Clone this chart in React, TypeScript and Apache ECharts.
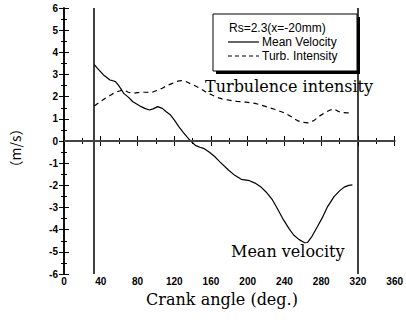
import React, { useEffect, useRef } from "react";
import * as echarts from "echarts";

const xTicks = [0, 40, 80, 120, 160, 200, 240, 280, 320, 360];
const yTicks = [-6, -5, -4, -3, -2, -1, 0, 1, 2, 3, 4, 5, 6];

const meanVelocity: [number, number][] = [
  [33, 3.45], [36, 3.3], [40, 3.12], [43, 2.98], [47, 2.85], [50, 2.75], [53, 2.72], [56, 2.68],
  [59, 2.53], [62, 2.35], [65, 2.15], [70, 1.98], [75, 1.77], [80, 1.65], [84, 1.55], [88, 1.47],
  [93, 1.4], [97, 1.45], [102, 1.55], [107, 1.47], [111, 1.33], [116, 1.17], [120, 0.95], [125, 0.65],
  [130, 0.38], [136, 0.08], [140, -0.08], [143, -0.2], [148, -0.28], [152, -0.33], [158, -0.5],
  [164, -0.7], [170, -0.95], [179, -1.31], [186, -1.55], [193, -1.73], [202, -1.79], [208, -1.9],
  [214, -2.06], [220, -2.3], [227, -2.66], [233, -3.1], [239, -3.56], [245, -3.95], [250, -4.24],
  [256, -4.45], [262, -4.59], [265, -4.58], [270, -4.3], [276, -3.86], [282, -3.4], [287, -2.96],
  [294, -2.51], [300, -2.25], [305, -2.08], [310, -2.0], [314, -1.98],
];

const turbIntensity: [number, number][] = [
  [33, 1.58], [37, 1.7], [41, 1.82], [45, 1.93], [50, 2.05], [54, 2.15], [58, 2.22], [62, 2.28],
  [66, 2.28], [70, 2.2], [75, 2.15], [80, 2.18], [85, 2.2], [90, 2.2], [95, 2.18], [101, 2.28],
  [107, 2.38], [112, 2.5], [118, 2.6], [124, 2.7], [128, 2.72], [132, 2.7], [136, 2.62], [142, 2.5],
  [148, 2.38], [154, 2.22], [160, 2.1], [166, 1.98], [172, 1.9], [180, 1.84], [188, 1.79], [198, 1.75],
  [208, 1.7], [215, 1.62], [222, 1.52], [230, 1.42], [236, 1.33], [241, 1.25], [248, 1.08], [254, 0.92],
  [259, 0.85], [266, 0.82], [272, 0.92], [278, 1.12], [284, 1.28], [290, 1.4], [294, 1.45], [298, 1.35],
  [302, 1.28], [308, 1.27], [314, 1.28],
];

const verticalMarks = [32, 320];
const legendTitle = "Rs=2.3(x=-20mm)";
const seriesNames = ["Mean Velocity", "Turb. Intensity"];

export default function App() {
  const ref = useRef<HTMLDivElement>(null);
  useEffect(() => {
    if (!ref.current) return;
    const chart = echarts.init(ref.current, null, { renderer: "svg" });
    const sans = "'Liberation Sans', Arial, sans-serif";
    const serif = "'DejaVu Serif', serif";
    const axisCommon = {
      type: "value" as const,
      axisLine: { show: true, lineStyle: { color: "#000", width: 1.5 } },
      axisTick: { show: true, inside: true, length: 5, lineStyle: { color: "#000", width: 1 } },
      minorTick: { show: true, splitNumber: 2, length: 3, lineStyle: { color: "#000", width: 1 } },
      splitLine: { show: false },
    };
    chart.setOption({
      animation: false,
      grid: { left: 64, right: 4, top: 8, bottom: 46 },
      xAxis: [
        {
          ...axisCommon,
          min: xTicks[0],
          max: xTicks[xTicks.length - 1],
          interval: 40,
          position: "bottom",
          axisLabel: { color: "#000", fontSize: 10, fontWeight: "bold", fontFamily: sans, margin: 2 },
        },
        {
          ...axisCommon,
          min: xTicks[0],
          max: xTicks[xTicks.length - 1],
          interval: 40,
          position: "top",
          axisLabel: { show: false },
        },
      ],
      yAxis: [
        {
          ...axisCommon,
          min: yTicks[0],
          max: yTicks[yTicks.length - 1],
          interval: 1,
          position: "left",
          axisLabel: { color: "#000", fontSize: 10, fontWeight: "bold", fontFamily: sans, margin: 6 },
        },
        {
          ...axisCommon,
          min: yTicks[0],
          max: yTicks[yTicks.length - 1],
          interval: 1,
          position: "right",
          axisLabel: { show: false },
        },
      ],
      series: [
        {
          name: seriesNames[0],
          type: "line",
          data: meanVelocity,
          symbol: "none",
          lineStyle: { color: "#000", width: 1.2 },
          markLine: {
            silent: true,
            symbol: "none",
            label: { show: false },
            data: [
              ...verticalMarks.map((v) => ({ xAxis: v, lineStyle: { color: "#000", width: 1.5, type: "solid" } })),
              { yAxis: 0, lineStyle: { color: "#444", width: 2, type: "solid" } },
            ],
          },
        },
        {
          name: seriesNames[1],
          type: "line",
          data: turbIntensity,
          symbol: "none",
          lineStyle: { color: "#000", width: 1.2, type: [5, 4] },
        },
      ],
      graphic: [
        { type: "rect", shape: { x: 216, y: 17, width: 144, height: 57 }, style: { fill: "#000" } },
        { type: "rect", shape: { x: 213, y: 14, width: 144, height: 57 }, style: { fill: "#fff", stroke: "#000", lineWidth: 1 } },
        { type: "text", x: 229, y: 28, style: { text: legendTitle, fill: "#000", font: `12px ${sans}`, textVerticalAlign: "middle" } },
        { type: "line", shape: { x1: 228, y1: 42, x2: 259, y2: 42 }, style: { stroke: "#000", lineWidth: 1.2 } },
        { type: "text", x: 262, y: 42, style: { text: seriesNames[0], fill: "#000", font: `12px ${sans}`, textVerticalAlign: "middle" } },
        { type: "line", shape: { x1: 228, y1: 56, x2: 259, y2: 56 }, style: { stroke: "#000", lineWidth: 1.2, lineDash: [4, 3] } },
        { type: "text", x: 262, y: 56, style: { text: seriesNames[1], fill: "#000", font: `12px ${sans}`, textVerticalAlign: "middle" } },
        { type: "text", x: 205, y: 86, style: { text: "Turbulence intensity", fill: "#000", font: `16px ${serif}`, textVerticalAlign: "middle" } },
        { type: "text", x: 231, y: 251, style: { text: "Mean velocity", fill: "#000", font: `16px ${serif}`, textVerticalAlign: "middle" } },
        { type: "text", x: 222, y: 299, style: { text: "Crank angle (deg.)", fill: "#000", font: `16px ${serif}`, textAlign: "center", textVerticalAlign: "middle" } },
        { type: "text", x: 15, y: 148, rotation: Math.PI / 2, style: { text: "（m/s）", fill: "#000", font: `14px 'Noto Sans CJK KR', sans-serif`, textAlign: "center", textVerticalAlign: "middle" } },
      ],
    });
    return () => chart.dispose();
  }, []);
  return <div ref={ref} style={{ position: "absolute", left: 0, top: 0, width: 406, height: 320 }} />;
}
